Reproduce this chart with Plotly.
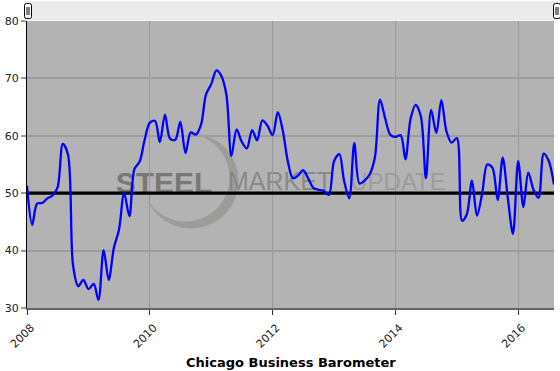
import numpy as np
import pandas as pd
import plotly.graph_objects as go

# ---------------- data (monthly Chicago Business Barometer) ----------------
values_2008 = [51.3, 44.5, 48.2, 48.3, 49.1, 49.6, 51.0, 58.6, 56.7, 37.4, 33.8, 34.9]
values_2009 = [33.3, 34.2, 31.4, 40.1, 34.9, 40.5, 43.6, 50.0, 46.0, 54.2, 55.5, 59.3]
values_2010 = [62.3, 62.6, 58.9, 63.7, 59.5, 59.3, 62.4, 57.0, 60.6, 60.2, 61.9, 67.2]
values_2011 = [69.0, 71.4, 70.5, 67.2, 56.5, 61.1, 59.0, 57.8, 61.0, 59.2, 62.7, 61.8]
values_2012 = [60.1, 64.1, 61.0, 55.5, 52.6, 53.1, 54.0, 52.5, 50.9, 50.6, 50.4, 49.7]
values_2013 = [55.6, 56.8, 52.2, 49.1, 58.7, 51.7, 52.2, 53.3, 56.3, 66.3, 63.0, 60.2]
values_2014 = [59.8, 60.1, 55.9, 63.0, 65.4, 63.4, 52.6, 64.5, 60.5, 66.2, 60.7, 58.8]
values_2015 = [59.6, 45.2, 46.3, 52.2, 46.1, 50.0, 55.0, 54.4, 48.8, 56.2, 49.0, 42.9]
values_2016 = [55.6, 47.6, 53.6, 50.6, 49.2, 56.9, 55.6, 51.5]

values = (values_2008 + values_2009 + values_2010 + values_2011 + values_2012
          + values_2013 + values_2014 + values_2015 + values_2016)
start_month = "2008-01-01"
months = pd.date_range(start_month, periods=len(values), freq="MS")

y_ticks = [30, 40, 50, 60, 70, 80]
x_tick_years = ["2008", "2010", "2012", "2014", "2016"]
reference_level = 50
chart_title = "Chicago Business Barometer"
watermark_words = ["STEEL", "MARKET", "UPDATE"]

# ---------------- geometry helpers ----------------
W, H = 560, 371
ML, MR, MT, MB = 27, 6, 21, 63
PW, PH = W - ML - MR, H - MT - MB


def fx(x):
    return (x - ML) / PW


def fy(y):
    return (H - MB - y) / PH


def rounded_rect(x0, y0, x1, y1, r):
    pts = f"M{fx(x0 + r)},{fy(y0)} L{fx(x1 - r)},{fy(y0)} Q{fx(x1)},{fy(y0)} {fx(x1)},{fy(y0 + r)} " \
          f"L{fx(x1)},{fy(y1 - r)} Q{fx(x1)},{fy(y1)} {fx(x1 - r)},{fy(y1)} " \
          f"L{fx(x0 + r)},{fy(y1)} Q{fx(x0)},{fy(y1)} {fx(x0)},{fy(y1 - r)} " \
          f"L{fx(x0)},{fy(y0 + r)} Q{fx(x0)},{fy(y0)} {fx(x0 + r)},{fy(y0)} Z"
    return pts


def crescent_path(c1, r1, c2, r2, n=80):
    # region inside circle 1 but outside circle 2 (pixel space)
    d = np.hypot(c2[0] - c1[0], c2[1] - c1[1])
    a = (r1 ** 2 - r2 ** 2 + d ** 2) / (2 * d)
    h = np.sqrt(max(r1 ** 2 - a ** 2, 0))
    ux, uy = (c2[0] - c1[0]) / d, (c2[1] - c1[1]) / d
    px_, py_ = c1[0] + a * ux, c1[1] + a * uy
    p1 = (px_ - h * uy, py_ + h * ux)
    p2 = (px_ + h * uy, py_ - h * ux)
    t1o = np.arctan2(p1[1] - c1[1], p1[0] - c1[0])
    t2o = np.arctan2(p2[1] - c1[1], p2[0] - c1[0])
    away = np.arctan2(-uy, -ux)

    def arc(ta, tb, through):
        for sgn in (1, -1):
            span = (tb - ta) * sgn % (2 * np.pi)
            ts = ta + sgn * np.linspace(0, span, n)
            dif = np.abs((ts - through + np.pi) % (2 * np.pi) - np.pi)
            if dif.min() < 0.1:
                return ts
        return np.linspace(ta, tb, n)
    to = arc(t1o, t2o, away)
    outer = [(c1[0] + r1 * np.cos(t), c1[1] + r1 * np.sin(t)) for t in to]
    t2i = np.arctan2(p2[1] - c2[1], p2[0] - c2[0])
    t1i = np.arctan2(p1[1] - c2[1], p1[0] - c2[0])
    ti = arc(t2i, t1i, away)
    inner = [(c2[0] + r2 * np.cos(t), c2[1] + r2 * np.sin(t)) for t in ti]
    pts = outer + inner
    return "M" + " L".join(f"{fx(x):.5f},{fy(y):.5f}" for x, y in pts) + " Z"


fig = go.Figure()

# reference line at 50 (below the series)
fig.add_trace(go.Scatter(
    x=[months[0], months[-1]], y=[reference_level, reference_level],
    mode="lines", line=dict(color="#000000", width=3.2),
    hoverinfo="skip", showlegend=False,
))

fig.add_trace(go.Scatter(
    x=months, y=values, mode="lines",
    line=dict(color="#0000ff", width=2.3, shape="spline", smoothing=0.9),
    showlegend=False, name=chart_title,
))

shapes = []
# watermark crescent
shapes.append(dict(type="path", xref="paper", yref="paper", layer="below",
                   path=crescent_path((191, 181), 47.5, (185.5, 177.5), 44.0),
                   fillcolor="rgba(140,140,135,0.6)", line=dict(width=0)))

# watermark words (as shape labels so they sit beneath the series)
word_boxes = [
    (116, 212, 30, "Liberation Sans", "bold", "rgba(110,110,105,0.85)"),
    (226, 334, 25, "Liberation Sans", "normal", "rgba(130,130,126,0.85)"),
    (347, 449, 24, "Liberation Sans", "normal", "rgba(150,150,147,0.8)"),
]
for word, (x0, x1, size, fam, weight, col) in zip(watermark_words, word_boxes):
    shapes.append(dict(type="rect", xref="paper", yref="paper", layer="below",
                       x0=fx(x0), x1=fx(x1), y0=fy(196), y1=fy(162),
                       line=dict(width=0), fillcolor="rgba(0,0,0,0)",
                       label=dict(text=word, textposition="middle center",
                                  font=dict(family=fam, size=size, color=col, weight=weight))))

# navigator strip + handles
shapes.append(dict(type="rect", xref="paper", yref="paper", layer="above",
                   x0=fx(24), x1=fx(558), y0=fy(20.5), y1=fy(1),
                   fillcolor="#ebebeb", line=dict(width=0)))
for hx in (24.5, 553.5):
    shapes.append(dict(type="path", xref="paper", yref="paper", layer="above",
                       path=rounded_rect(hx, 3.5, hx + 7, 18.5, 2),
                       fillcolor="#ffffff", line=dict(color="#000000", width=1)))
    for lx in (hx + 2.5, hx + 4.5):
        shapes.append(dict(type="line", xref="paper", yref="paper", layer="above",
                           x0=fx(lx), x1=fx(lx), y0=fy(7), y1=fy(15),
                           line=dict(color="#000000", width=1)))

fig.update_layout(
    width=W, height=H,
    margin=dict(l=ML, r=MR, t=MT, b=MB, pad=0, autoexpand=False),
    paper_bgcolor="#ffffff",
    plot_bgcolor="#b3b3b3",
    showlegend=False,
    shapes=shapes,
    font=dict(family="DejaVu Sans", size=11, color="#222222"),
    annotations=[dict(
        text=f"<b>{chart_title}</b>", xref="paper", yref="paper",
        x=0.5, y=fy(362), xanchor="center", yanchor="middle", showarrow=False,
        font=dict(family="DejaVu Sans", size=13, color="#000000"),
    )],
)

fig.update_xaxes(
    type="date",
    range=[months[0], months[-1]],
    tickvals=[pd.Timestamp(f"{y}-01-01") for y in x_tick_years],
    ticktext=x_tick_years,
    tickangle=-45,
    ticks="outside", ticklen=5, tickcolor="#333333", tickwidth=1,
    ticklabelshift=4, ticklabelstandoff=2,
    showline=True, linecolor="#666666", linewidth=2,
    showgrid=True, gridcolor="#999999", gridwidth=1,
    zeroline=False, automargin=False,
    tickfont=dict(family="DejaVu Sans", size=11, color="#222222"),
)
fig.update_yaxes(
    range=[y_ticks[0], y_ticks[-1]],
    tickvals=y_ticks,
    ticks="outside", ticklen=5, tickcolor="#999999", tickwidth=2,
    showline=True, linecolor="#000000", linewidth=1,
    showgrid=True, gridcolor="#9d9d9d", gridwidth=2,
    zeroline=False, automargin=False,
    tickfont=dict(family="DejaVu Sans", size=11, color="#222222"),
)

fig.write_html(
    "out.html",
    config={"displayModeBar": False},
    post_script="document.body.style.margin='0';document.body.style.overflow='hidden';",
)
